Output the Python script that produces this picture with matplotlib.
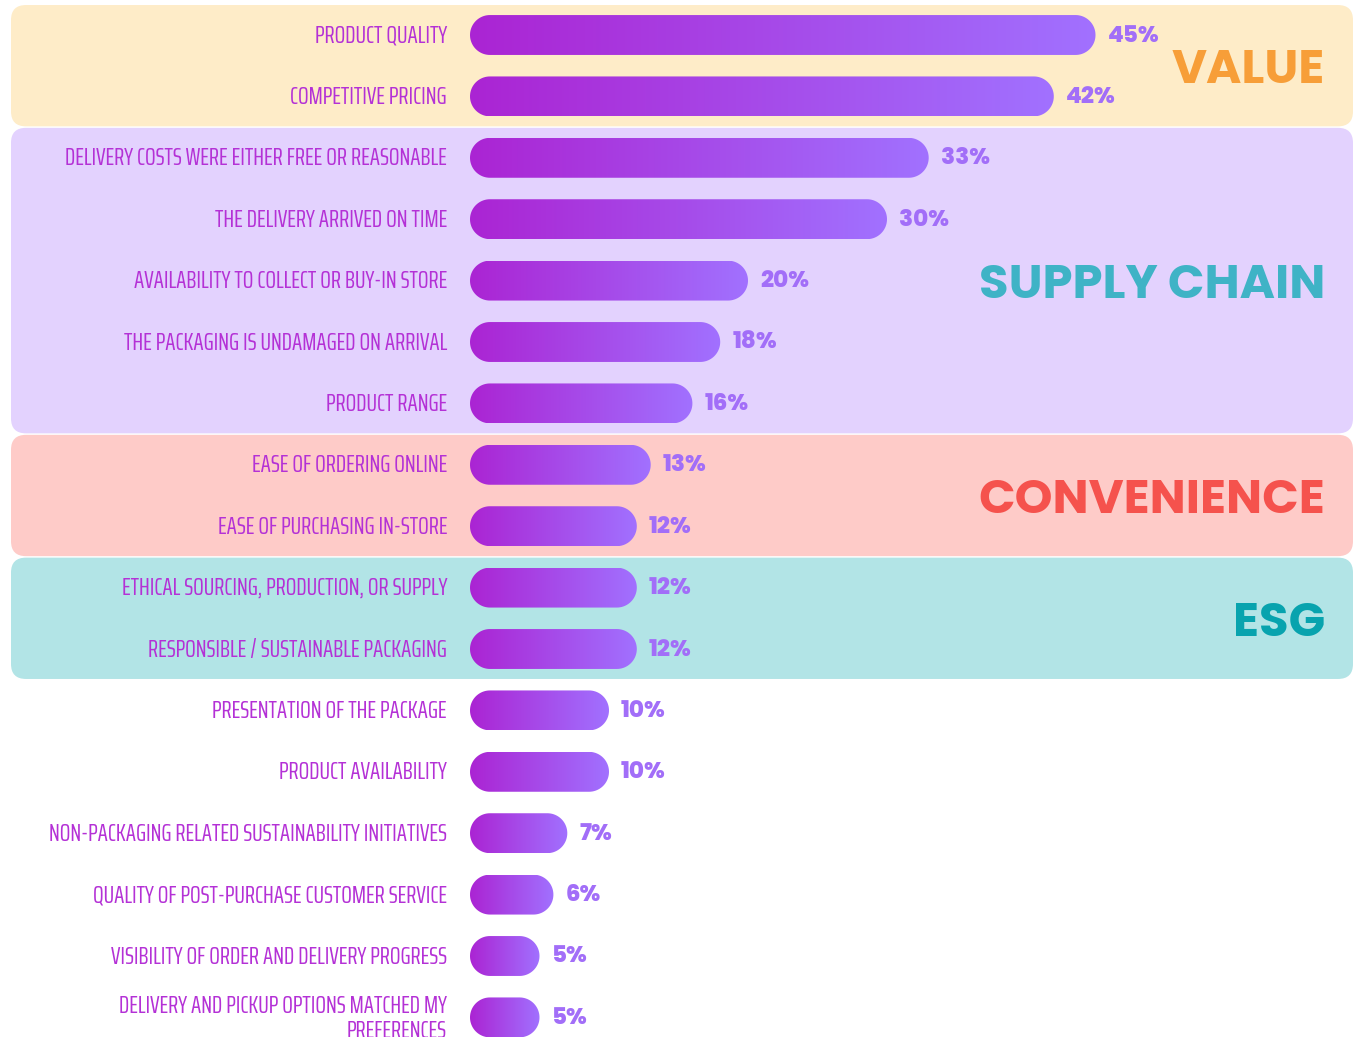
import numpy as np
import matplotlib
matplotlib.use("Agg")
import matplotlib.pyplot as plt
from matplotlib.patches import FancyBboxPatch, Polygon
from matplotlib.colors import LinearSegmentedColormap
from matplotlib.transforms import blended_transform_factory

# =========================
# DATA
# =========================
labels = [
    "PRODUCT QUALITY",
    "COMPETITIVE PRICING",
    "DELIVERY COSTS WERE EITHER FREE OR REASONABLE",
    "THE DELIVERY ARRIVED ON TIME",
    "AVAILABILITY TO COLLECT OR BUY-IN STORE",
    "THE PACKAGING IS UNDAMAGED ON ARRIVAL",
    "PRODUCT RANGE",
    "EASE OF ORDERING ONLINE",
    "EASE OF PURCHASING IN-STORE",
    "ETHICAL SOURCING, PRODUCTION, OR SUPPLY",
    "RESPONSIBLE / SUSTAINABLE PACKAGING",
    "PRESENTATION OF THE PACKAGE",
    "PRODUCT AVAILABILITY",
    "NON-PACKAGING RELATED SUSTAINABILITY INITIATIVES",
    "QUALITY OF POST-PURCHASE CUSTOMER SERVICE",
    "VISIBILITY OF ORDER AND DELIVERY PROGRESS",
    "DELIVERY AND PICKUP OPTIONS MATCHED MY\nPREFERENCES",
]
values = [45, 42, 33, 30, 20, 18, 16, 13, 12, 12, 12, 10, 10, 7, 6, 5, 5]

group_names = ["VALUE", "SUPPLY CHAIN", "CONVENIENCE", "ESG"]
group_first = [0, 2, 7, 9]
group_last = [1, 6, 8, 10]

# =========================
# STYLE / LAYOUT
# =========================
W, H = 1359, 1037
DPI = 100
X0_PX = 470          # where 0% sits
PX_PER_PCT = 13.9
ROW0_PX = 35
ROW_PX = 61.4
BAR_H = 0.65
BAND_LEFT_PX, BAND_RIGHT_PX = 11, 1353

band_colors = ["#feecc8", "#e3d2fe", "#fecbc8", "#b2e4e6"]
title_colors = ["#f79e38", "#3fb3c6", "#f5524d", "#08a3ae"]
label_color = "#b431d6"
pct_color = "#a26ef8"
bar_cmap = LinearSegmentedColormap.from_list("bar", ["#ab24d3", "#a171ff"])

LABEL_FONT = ["Saira ExtraCondensed", "Barlow Condensed", "Liberation Sans", "DejaVu Sans"]
BOLD_FONT = ["Poppins", "Lato", "DejaVu Sans"]

# =========================
# FIGURE
# =========================
fig = plt.figure(figsize=(W / DPI, H / DPI), dpi=DPI)
ax = fig.add_axes([0, 0, 1, 1])
ax.set_axis_off()

xlim = (-X0_PX / PX_PER_PCT, (W - X0_PX) / PX_PER_PCT)
ylim = ((H - ROW0_PX) / ROW_PX, -ROW0_PX / ROW_PX)
ax.set_xlim(*xlim)
ax.set_ylim(*ylim)
# x-units per y-unit in pixels, keeps the corners round
aspect = PX_PER_PCT / ROW_PX
renderer = fig.canvas.get_renderer()


def fit_size(txt, target_px):
    # scale a text's font size so its width matches target_px
    txt.set_fontsize(20)
    w = txt.get_window_extent(renderer).width
    txt.set_fontsize(20 * target_px / w)


def stadium(v, yc, h):
    ry = h / 2
    rx = min(ry / aspect, v / 2)
    t = np.linspace(-np.pi / 2, np.pi / 2, 40)
    right = np.column_stack([v - rx + rx * np.cos(t), yc + ry * np.sin(t)])
    t2 = np.linspace(np.pi / 2, 3 * np.pi / 2, 40)
    left = np.column_stack([rx + rx * np.cos(t2), yc + ry * np.sin(t2)])
    return np.vstack([right, left])


# background bands
band_l = (BAND_LEFT_PX - X0_PX) / PX_PER_PCT
band_r = (BAND_RIGHT_PX - X0_PX) / PX_PER_PCT
gap = 0.012
titles = []
for name, first, last, bc, tc in zip(group_names, group_first, group_last,
                                     band_colors, title_colors):
    top = first - 0.5 + gap
    bottom = last + 0.5 - gap
    band = FancyBboxPatch((band_l, top), band_r - band_l, bottom - top,
                          boxstyle="round,pad=0,rounding_size=%f" % (15 / PX_PER_PCT),
                          mutation_aspect=aspect,
                          facecolor=bc, edgecolor="none", zorder=0)
    ax.add_patch(band)
    t = ax.text(1325 / W, (first + last) / 2, name,
                transform=blended_transform_factory(ax.transAxes, ax.transData),
                ha="right", va="center_baseline", fontweight="bold",
                family=BOLD_FONT, color=tc, zorder=3)
    titles.append(t)

fit_size(titles[1], 347)
for t in titles:
    t.set_fontsize(titles[1].get_fontsize())

# bars with gradient + round caps
grad = np.linspace(0, 1, 256)[None, :]
lab_texts = []
for i, (lab, v) in enumerate(zip(labels, values)):
    patch = Polygon(stadium(v, i, BAR_H), closed=True,
                    facecolor="none", edgecolor="none", zorder=2)
    ax.add_patch(patch)
    im = ax.imshow(grad, extent=(0, v, i + BAR_H / 2, i - BAR_H / 2),
                   cmap=bar_cmap, aspect="auto", interpolation="bilinear",
                   zorder=2)
    im.set_clip_path(patch)

    t = ax.annotate(lab, (0, i), xytext=(-23, 2), textcoords="offset pixels",
                    ha="right", va="center_baseline", family=LABEL_FONT,
                    color=label_color, linespacing=1.05, zorder=3)
    lab_texts.append(t)
    ax.annotate(f"{v}%", (v, i), xytext=(12, 2), textcoords="offset pixels",
                ha="left", va="center_baseline", fontsize=16.5, fontweight=800,
                family=BOLD_FONT, color=pct_color, zorder=3)

fit_size(lab_texts[2], 383)
for t in lab_texts:
    t.set_fontsize(lab_texts[2].get_fontsize())

ax.set_xlim(*xlim)
ax.set_ylim(*ylim)

fig.savefig("out.png", dpi=DPI)
